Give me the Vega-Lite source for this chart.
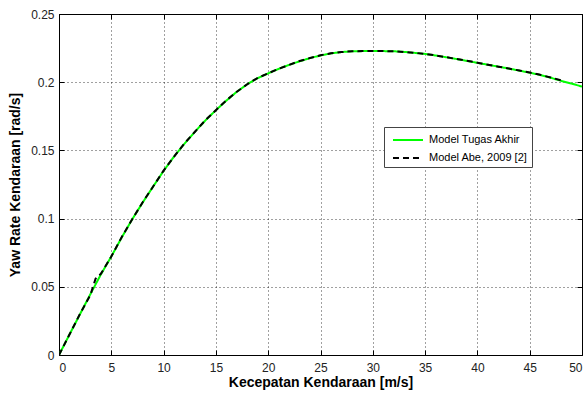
{
  "$schema": "https://vega.github.io/schema/vega-lite/v6.json",
  "width": 523,
  "height": 341,
  "autosize": "none",
  "padding": {"left": 59, "top": 14, "right": 5, "bottom": 39},
  "background": "white",
  "config": {
    "view": {"stroke": "black", "strokeWidth": 1},
    "font": "Liberation Sans",
    "axis": {
      "labelFont": "Liberation Sans",
      "labelFontSize": 12,
      "labelColor": "#222",
      "titleFont": "Liberation Sans",
      "titleFontSize": 14,
      "titleFontWeight": "bold",
      "titleColor": "black",
      "domain": false,
      "tickColor": "black",
      "tickSize": -5,
      "gridColor": "black",
      "gridOpacity": 0.75,
      "gridDash": [1, 3],
      "gridWidth": 1,
      "format": "~g"
    }
  },
  "data": {
    "values": [
      {"v": 0, "y": 0, "s": "Model Tugas Akhir"},
      {"v": 1, "y": 0.0150, "s": "Model Tugas Akhir"},
      {"v": 2, "y": 0.0298, "s": "Model Tugas Akhir"},
      {"v": 3, "y": 0.0446, "s": "Model Tugas Akhir"},
      {"v": 4, "y": 0.0590, "s": "Model Tugas Akhir"},
      {"v": 5, "y": 0.0722, "s": "Model Tugas Akhir"},
      {"v": 6, "y": 0.0862, "s": "Model Tugas Akhir"},
      {"v": 7, "y": 0.0995, "s": "Model Tugas Akhir"},
      {"v": 8, "y": 0.1118, "s": "Model Tugas Akhir"},
      {"v": 9, "y": 0.1235, "s": "Model Tugas Akhir"},
      {"v": 10, "y": 0.1350, "s": "Model Tugas Akhir"},
      {"v": 11, "y": 0.1455, "s": "Model Tugas Akhir"},
      {"v": 12, "y": 0.1550, "s": "Model Tugas Akhir"},
      {"v": 13, "y": 0.1637, "s": "Model Tugas Akhir"},
      {"v": 14, "y": 0.1720, "s": "Model Tugas Akhir"},
      {"v": 15, "y": 0.1795, "s": "Model Tugas Akhir"},
      {"v": 16, "y": 0.1865, "s": "Model Tugas Akhir"},
      {"v": 17, "y": 0.1930, "s": "Model Tugas Akhir"},
      {"v": 18, "y": 0.1985, "s": "Model Tugas Akhir"},
      {"v": 19, "y": 0.2030, "s": "Model Tugas Akhir"},
      {"v": 20, "y": 0.2065, "s": "Model Tugas Akhir"},
      {"v": 21, "y": 0.2098, "s": "Model Tugas Akhir"},
      {"v": 22, "y": 0.2127, "s": "Model Tugas Akhir"},
      {"v": 23, "y": 0.2153, "s": "Model Tugas Akhir"},
      {"v": 24, "y": 0.2177, "s": "Model Tugas Akhir"},
      {"v": 25, "y": 0.2196, "s": "Model Tugas Akhir"},
      {"v": 26, "y": 0.2211, "s": "Model Tugas Akhir"},
      {"v": 27, "y": 0.2221, "s": "Model Tugas Akhir"},
      {"v": 28, "y": 0.2226, "s": "Model Tugas Akhir"},
      {"v": 29, "y": 0.2228, "s": "Model Tugas Akhir"},
      {"v": 30, "y": 0.2228, "s": "Model Tugas Akhir"},
      {"v": 31, "y": 0.2228, "s": "Model Tugas Akhir"},
      {"v": 32, "y": 0.2227, "s": "Model Tugas Akhir"},
      {"v": 33, "y": 0.2222, "s": "Model Tugas Akhir"},
      {"v": 34, "y": 0.2215, "s": "Model Tugas Akhir"},
      {"v": 35, "y": 0.2207, "s": "Model Tugas Akhir"},
      {"v": 36, "y": 0.2196, "s": "Model Tugas Akhir"},
      {"v": 37, "y": 0.2183, "s": "Model Tugas Akhir"},
      {"v": 38, "y": 0.2170, "s": "Model Tugas Akhir"},
      {"v": 39, "y": 0.2156, "s": "Model Tugas Akhir"},
      {"v": 40, "y": 0.2142, "s": "Model Tugas Akhir"},
      {"v": 41, "y": 0.2128, "s": "Model Tugas Akhir"},
      {"v": 42, "y": 0.2114, "s": "Model Tugas Akhir"},
      {"v": 43, "y": 0.2100, "s": "Model Tugas Akhir"},
      {"v": 44, "y": 0.2085, "s": "Model Tugas Akhir"},
      {"v": 45, "y": 0.2070, "s": "Model Tugas Akhir"},
      {"v": 46, "y": 0.2053, "s": "Model Tugas Akhir"},
      {"v": 47, "y": 0.2033, "s": "Model Tugas Akhir"},
      {"v": 48, "y": 0.2010, "s": "Model Tugas Akhir"},
      {"v": 49, "y": 0.1990, "s": "Model Tugas Akhir"},
      {"v": 50, "y": 0.1968, "s": "Model Tugas Akhir"},
      {"v": 0, "y": 0, "s": "Model Abe, 2009 [2]"},
      {"v": 1, "y": 0.0150, "s": "Model Abe, 2009 [2]"},
      {"v": 2, "y": 0.0300, "s": "Model Abe, 2009 [2]"},
      {"v": 3, "y": 0.0440, "s": "Model Abe, 2009 [2]"},
      {"v": 3.5, "y": 0.0560, "s": "Model Abe, 2009 [2]"},
      {"v": 4, "y": 0.0595, "s": "Model Abe, 2009 [2]"},
      {"v": 5, "y": 0.0722, "s": "Model Abe, 2009 [2]"},
      {"v": 6, "y": 0.0865, "s": "Model Abe, 2009 [2]"},
      {"v": 7, "y": 0.0995, "s": "Model Abe, 2009 [2]"},
      {"v": 8, "y": 0.1120, "s": "Model Abe, 2009 [2]"},
      {"v": 9, "y": 0.1235, "s": "Model Abe, 2009 [2]"},
      {"v": 10, "y": 0.1352, "s": "Model Abe, 2009 [2]"},
      {"v": 11, "y": 0.1455, "s": "Model Abe, 2009 [2]"},
      {"v": 12, "y": 0.1552, "s": "Model Abe, 2009 [2]"},
      {"v": 13, "y": 0.1637, "s": "Model Abe, 2009 [2]"},
      {"v": 14, "y": 0.1722, "s": "Model Abe, 2009 [2]"},
      {"v": 15, "y": 0.1795, "s": "Model Abe, 2009 [2]"},
      {"v": 16, "y": 0.1867, "s": "Model Abe, 2009 [2]"},
      {"v": 17, "y": 0.1930, "s": "Model Abe, 2009 [2]"},
      {"v": 18, "y": 0.1985, "s": "Model Abe, 2009 [2]"},
      {"v": 19, "y": 0.2032, "s": "Model Abe, 2009 [2]"},
      {"v": 20, "y": 0.2065, "s": "Model Abe, 2009 [2]"},
      {"v": 21, "y": 0.2098, "s": "Model Abe, 2009 [2]"},
      {"v": 22, "y": 0.2127, "s": "Model Abe, 2009 [2]"},
      {"v": 23, "y": 0.2155, "s": "Model Abe, 2009 [2]"},
      {"v": 24, "y": 0.2177, "s": "Model Abe, 2009 [2]"},
      {"v": 25, "y": 0.2198, "s": "Model Abe, 2009 [2]"},
      {"v": 26, "y": 0.2212, "s": "Model Abe, 2009 [2]"},
      {"v": 27, "y": 0.2221, "s": "Model Abe, 2009 [2]"},
      {"v": 28, "y": 0.2227, "s": "Model Abe, 2009 [2]"},
      {"v": 29, "y": 0.2228, "s": "Model Abe, 2009 [2]"},
      {"v": 30, "y": 0.2228, "s": "Model Abe, 2009 [2]"},
      {"v": 31, "y": 0.2228, "s": "Model Abe, 2009 [2]"},
      {"v": 32, "y": 0.2226, "s": "Model Abe, 2009 [2]"},
      {"v": 33, "y": 0.2221, "s": "Model Abe, 2009 [2]"},
      {"v": 34, "y": 0.2215, "s": "Model Abe, 2009 [2]"},
      {"v": 35, "y": 0.2208, "s": "Model Abe, 2009 [2]"},
      {"v": 36, "y": 0.2196, "s": "Model Abe, 2009 [2]"},
      {"v": 37, "y": 0.2184, "s": "Model Abe, 2009 [2]"},
      {"v": 38, "y": 0.2170, "s": "Model Abe, 2009 [2]"},
      {"v": 39, "y": 0.2157, "s": "Model Abe, 2009 [2]"},
      {"v": 40, "y": 0.2143, "s": "Model Abe, 2009 [2]"},
      {"v": 41, "y": 0.2128, "s": "Model Abe, 2009 [2]"},
      {"v": 42, "y": 0.2114, "s": "Model Abe, 2009 [2]"},
      {"v": 43, "y": 0.2100, "s": "Model Abe, 2009 [2]"},
      {"v": 44, "y": 0.2086, "s": "Model Abe, 2009 [2]"},
      {"v": 45, "y": 0.2071, "s": "Model Abe, 2009 [2]"},
      {"v": 46, "y": 0.2054, "s": "Model Abe, 2009 [2]"},
      {"v": 47, "y": 0.2035, "s": "Model Abe, 2009 [2]"},
      {"v": 48, "y": 0.2014, "s": "Model Abe, 2009 [2]"}
    ]
  },
  "resolve": {"axis": {"x": "independent", "y": "independent"}},
  "layer": [
    {
      "mark": {"type": "line", "strokeWidth": 2, "clip": true},
      "encoding": {
        "x": {
          "field": "v",
          "type": "quantitative",
          "scale": {"domain": [0, 50], "nice": false, "zero": false},
          "axis": {
            "title": "Kecepatan Kendaraan [m/s]",
            "values": [0, 5, 10, 15, 20, 25, 30, 35, 40, 45, 50],
            "grid": true,
            "labelPadding": 12,
            "titlePadding": 2
          }
        },
        "y": {
          "field": "y",
          "type": "quantitative",
          "scale": {"domain": [0, 0.25], "nice": false},
          "axis": {
            "title": "Yaw Rate Kendaraan [rad/s]",
            "values": [0, 0.05, 0.1, 0.15, 0.2, 0.25],
            "grid": true,
            "labelPadding": 10,
            "titlePadding": 8
          }
        },
        "color": {
          "field": "s",
          "type": "nominal",
          "scale": {
            "domain": ["Model Tugas Akhir", "Model Abe, 2009 [2]"],
            "range": ["#00ff00", "#000000"]
          },
          "legend": {
            "title": null,
            "orient": "none",
            "legendX": 325,
            "legendY": 113,
            "symbolType": "M-1.875,0H1.875",
            "symbolSize": 256,
            "symbolStrokeWidth": 2,
            "labelFont": "Liberation Sans",
            "labelFontSize": 11,
            "labelColor": "black",
            "labelExpr": "datum.label + '         '",
            "strokeColor": "#444",
            "fillColor": "white",
            "padding": 4,
            "rowPadding": 4,
            "labelOffset": 12,
            "symbolOffset": 11
          }
        },
        "strokeDash": {
          "field": "s",
          "type": "nominal",
          "scale": {
            "domain": ["Model Tugas Akhir", "Model Abe, 2009 [2]"],
            "range": [[1, 0], [6, 4]]
          },
          "legend": null
        }
      }
    },
    {
      "mark": {"type": "point", "opacity": 0},
      "encoding": {
        "x": {
          "field": "v",
          "type": "quantitative",
          "axis": {
            "orient": "top",
            "title": null,
            "labels": false,
            "grid": false,
            "values": [0, 5, 10, 15, 20, 25, 30, 35, 40, 45, 50]
          }
        },
        "y": {
          "field": "y",
          "type": "quantitative",
          "axis": {
            "orient": "right",
            "title": null,
            "labels": false,
            "grid": false,
            "values": [0, 0.05, 0.1, 0.15, 0.2, 0.25]
          }
        }
      }
    }
  ]
}
